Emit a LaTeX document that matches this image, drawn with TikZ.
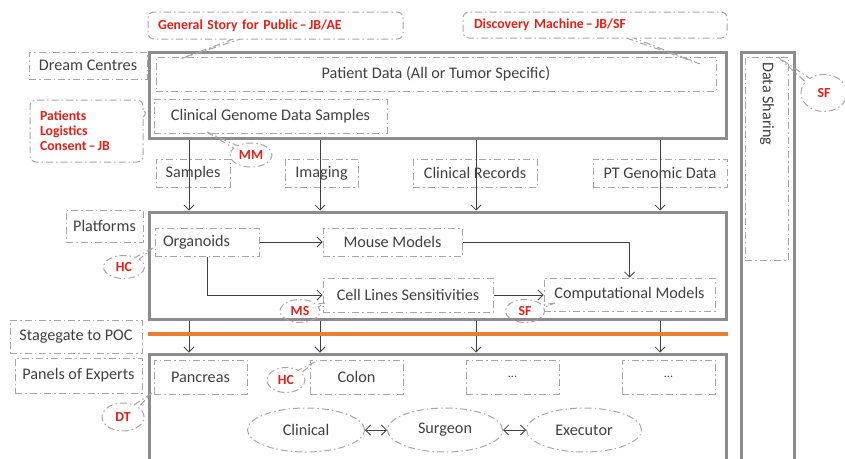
\documentclass[tikz,border=0pt]{standalone}
\usepackage{fontspec}
\setmainfont{Carlito}
\usetikzlibrary{shapes.geometric,shapes.callouts,arrows.meta}
\definecolor{txt}{HTML}{404040}
\definecolor{ddc}{HTML}{A6A6A6}
\definecolor{frm}{HTML}{8C8C8C}
\definecolor{rd}{HTML}{E0201B}
\definecolor{org}{HTML}{ED7D31}
\newcommand{\dsh}{\hspace{2pt}--\hspace{2pt}}
\begin{document}
\begin{tikzpicture}[x=1pt,y=-1pt,
 dd/.style={draw=ddc, line width=1pt, dash pattern=on 7pt off 3pt on 1.5pt off 3pt},
 gfont/.style={font=\fontsize{16.2}{19}\selectfont},
 lbl/.style={dd, rectangle, inner sep=0pt, text=txt, gfont},
 frame/.style={draw=frm, line width=3pt, rectangle, inner sep=0pt},
 redt/.style={text=rd, font=\fontsize{13.8}{15}\selectfont\bfseries},
 rc/.style={dd, rectangle callout, rounded corners=6pt, redt, inner ysep=0pt, align=left},
 ec/.style={dd, ellipse callout, redt, inner sep=0pt},
 el/.style={dd, ellipse, inner sep=0pt, text=txt, gfont},
 arr/.style={draw=txt, line width=0.8pt, -{Straight Barb[length=5pt,width=10pt]}},
 darr/.style={draw=txt, line width=0.8pt, {Straight Barb[length=5pt,width=10pt]}-{Straight Barb[length=5pt,width=10pt]}}
]
\clip (0,0) rectangle (845,458);
% frames
\node[frame, minimum width=577, minimum height=86] (f1) at (437.5,95) {};
\node[frame, minimum width=577, minimum height=107] (f2) at (437.5,265.5) {};
\node[frame, minimum width=577, minimum height=116] (f3) at (437.5,412) {};
\node[frame, minimum width=53, minimum height=418] (fds) at (767.5,261) {};
% top area
\node[lbl, minimum width=560, minimum height=34] (pd) at (436,74) {Patient Data (All or Tumor Specific)};
\node[lbl, minimum width=233, minimum height=34] (cg) at (270.5,116) {Clinical Genome Data Samples};
\node[lbl, minimum width=118, minimum height=27] (dc) at (88,65.5) {Dream Centres};
% data sharing
\node[dd, rectangle, inner sep=0pt, minimum width=43, minimum height=203] (dsb) at (766.5,158.5) {};
\node[rotate=-90, anchor=west, text=txt, gfont, inner sep=0pt] (dst) at (767,62) {Data Sharing};
% input labels
\node[lbl, minimum width=74, minimum height=28] (sam) at (193,173) {Samples};
\node[lbl, minimum width=73, minimum height=28] (img) at (321.5,173) {Imaging};
\node[lbl, minimum width=124, minimum height=28] (cr) at (475,173) {Clinical Records};
\node[lbl, minimum width=134, minimum height=28] (ptg) at (660,173) {PT Genomic Data};
% platforms
\node[lbl, minimum width=77, minimum height=32] (plat) at (104.5,226) {Platforms};
\node[lbl, minimum width=104, minimum height=28, text width=88, inner xsep=8pt, align=left] (orgd) at (207,242) {Organoids};
\node[lbl, minimum width=139, minimum height=28] (mm) at (392.5,242) {Mouse Models};
\node[lbl, minimum width=170, minimum height=34] (cls) at (408,295) {Cell Lines Sensitivities};
\node[lbl, minimum width=171, minimum height=33] (cm) at (629.5,294.5) {Computational Models};
% stagegate
\node[lbl, minimum width=132, minimum height=33] (sg) at (76,336.5) {Stagegate to POC};
\node[lbl, minimum width=127, minimum height=35] (pe) at (78.5,375.5) {Panels of Experts};
\node[lbl, minimum width=93, minimum height=34] (pan) at (200.5,377) {Pancreas};
\node[lbl, minimum width=93, minimum height=34] (col) at (356.5,377) {Colon};
\node[lbl, minimum width=93, minimum height=34] (d1) at (512.5,377) {\fontsize{12}{14}\selectfont ...};
\node[lbl, minimum width=93, minimum height=34] (d2) at (668.5,377) {\fontsize{12}{14}\selectfont ...};
\node[el, minimum width=117, minimum height=44] (cli) at (306,430) {Clinical};
\node[el, minimum width=115, minimum height=44] (sur) at (445,430) {Surgeon};
\node[el, minimum width=115, minimum height=44] (exe) at (584,430) {Executor};
% callouts
\node[rc, minimum height=27, text width=235, inner xsep=10pt, callout absolute pointer={(177,60)}] (gs) at (275.5,25.5) {General Story for Public\dsh JB/AE};
\node[rc, minimum height=26, text width=242, inner xsep=11pt, callout absolute pointer={(703,65)}] (dm) at (595,25) {Discovery Machine\dsh JB/SF};
\node[rc, minimum height=62, text width=93, inner xsep=10pt, callout absolute pointer={(148,112)}] (plc) at (86.5,131) {Patients\\Logistics\\Consent\dsh JB};
\node[ec, minimum width=42, minimum height=24, callout absolute pointer={(207,132)}] (mmc) at (251,155) {MM};
\node[ec, minimum width=41, minimum height=23, callout absolute pointer={(153,248)}] (hc1) at (124,267) {HC};
\node[ec, minimum width=40, minimum height=23, callout absolute pointer={(325,303)}] (msc) at (300,311) {MS};
\node[ec, minimum width=39, minimum height=23, callout absolute pointer={(555,303)}] (sf2) at (525,311) {SF};
\node[ec, minimum width=38, minimum height=25, callout absolute pointer={(315,362)}] (hc2) at (286,380) {HC};
\node[ec, minimum width=42, minimum height=28, callout absolute pointer={(152,393)}] (dtc) at (123,417) {DT};
\node[ec, minimum width=46, minimum height=37, callout absolute pointer={(778,57)}] (sf1) at (824,93) {SF};
% columns
\coordinate (c1) at (189,0);
\coordinate (c2) at (320,0);
\coordinate (c3) at (476,0);
\coordinate (c4) at (660,0);
\coordinate (sgy) at (0,334);
\foreach \c in {c1,c2,c3,c4}{
  \draw[arr] (f1.south -| \c) -- (f2.north -| \c);
  \draw[arr] (f2.south -| \c) -- (f3.north -| \c);
}
\draw[org, line width=4pt] (f2.west |- sgy) -- (f2.east |- sgy);
% platform arrows
\draw[arr] (orgd.east) -- (mm.west);
\draw[arr] (orgd.south) |- (cls.west);
\draw[arr] (mm.east) -| (cm.north);
\draw[arr] (cls.east) -- (cls.east -| cm.west);
\draw[darr] (cli.east) -- (sur.west);
\draw[darr] (sur.east) -- (exe.west);
\end{tikzpicture}
\end{document}
